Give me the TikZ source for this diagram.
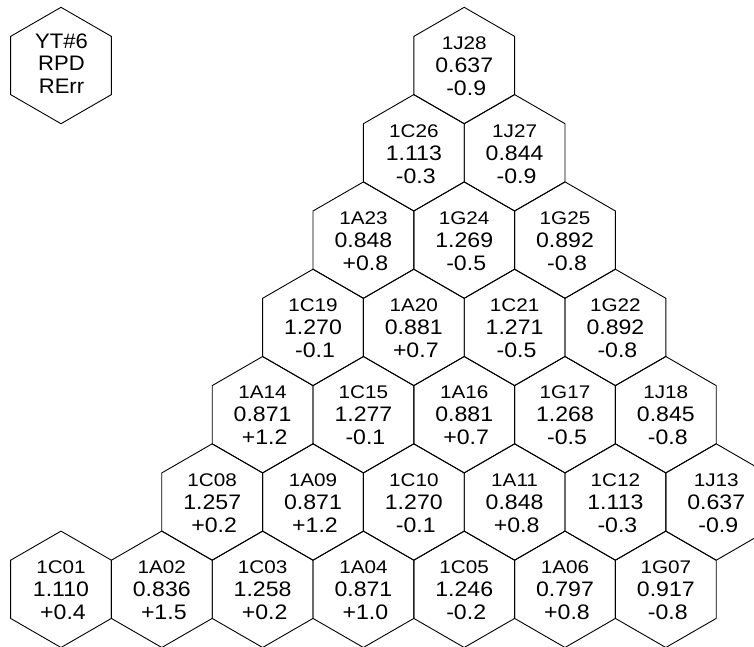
\documentclass[tikz,border=0pt]{standalone}
\usepackage{fontspec}
\setmainfont{Liberation Sans}
\usetikzlibrary{calc}
\newcommand\numsz{\fontsize{21}{23}\selectfont}
\newcommand\lblsz{\fontsize{18.3}{23}\selectfont}
\newcommand\legsz{\fontsize{21}{22.5}\selectfont}
\newcommand\wnum[1]{\scalebox{1.1}[1]{#1}}
\newcommand\wlbl[1]{\scalebox{1.13}[1]{#1}}
\newcommand\wleg[1]{\scalebox{1.05}[1]{#1}}
\def\HR{58.2}
\tikzset{
  hexline/.style={draw=black, line width=0.9pt, line join=miter},
  celltext/.style={align=center, inner sep=0pt, font=\numsz, yshift=-0.95pt},
  legtext/.style={align=center, inner sep=0pt, font=\legsz},
}
\newcommand\hexat[1]{\draw[hexline] (#1) ++(90:\HR) -- ++(-30:\HR) -- ++(-90:\HR) -- ++(-150:\HR) -- ++(150:\HR) -- ++(90:\HR) -- cycle;}
\newcommand\cell[6]{%
  \coordinate (c#1) at ({61+#2*50.4},{-65.5-(#3-1)*87.3});
  \hexat{c#1}
  \node[celltext] (#1) at (c#1) {\lblsz\wlbl{#4}\\ \numsz\wnum{#5}\\ \numsz\kern4pt\wnum{#6}};
}
\begin{document}
\begin{tikzpicture}[x=1pt,y=1pt]
\useasboundingbox (0,0) rectangle (754,-646);
\fill[white] (0,0) rectangle (754,-646);
\clip (0,0) rectangle (754,-646);
% legend
\coordinate (cleg) at (61,-65.5);
\hexat{cleg}
\node[legtext] (legend) at (61.5,-63.5) {\wleg{YT\#6}\\ \wleg{RPD}\\ \wleg{RErr}};
% row 1
\cell{1J28}{8}{1}{1J28}{0.637}{-0.9}
% row 2
\cell{1C26}{7}{2}{1C26}{1.113}{-0.3}
\cell{1J27}{9}{2}{1J27}{0.844}{-0.9}
% row 3
\cell{1A23}{6}{3}{1A23}{0.848}{+0.8}
\cell{1G24}{8}{3}{1G24}{1.269}{-0.5}
\cell{1G25}{10}{3}{1G25}{0.892}{-0.8}
% row 4
\cell{1C19}{5}{4}{1C19}{1.270}{-0.1}
\cell{1A20}{7}{4}{1A20}{0.881}{+0.7}
\cell{1C21}{9}{4}{1C21}{1.271}{-0.5}
\cell{1G22}{11}{4}{1G22}{0.892}{-0.8}
% row 5
\cell{1A14}{4}{5}{1A14}{0.871}{+1.2}
\cell{1C15}{6}{5}{1C15}{1.277}{-0.1}
\cell{1A16}{8}{5}{1A16}{0.881}{+0.7}
\cell{1G17}{10}{5}{1G17}{1.268}{-0.5}
\cell{1J18}{12}{5}{1J18}{0.845}{-0.8}
% row 6
\cell{1C08}{3}{6}{1C08}{1.257}{+0.2}
\cell{1A09}{5}{6}{1A09}{0.871}{+1.2}
\cell{1C10}{7}{6}{1C10}{1.270}{-0.1}
\cell{1A11}{9}{6}{1A11}{0.848}{+0.8}
\cell{1C12}{11}{6}{1C12}{1.113}{-0.3}
\cell{1J13}{13}{6}{1J13}{0.637}{-0.9}
% row 7
\cell{1C01}{0}{7}{1C01}{1.110}{+0.4}
\cell{1A02}{2}{7}{1A02}{0.836}{+1.5}
\cell{1C03}{4}{7}{1C03}{1.258}{+0.2}
\cell{1A04}{6}{7}{1A04}{0.871}{+1.0}
\cell{1C05}{8}{7}{1C05}{1.246}{-0.2}
\cell{1A06}{10}{7}{1A06}{0.797}{+0.8}
\cell{1G07}{12}{7}{1G07}{0.917}{-0.8}
\end{tikzpicture}
\end{document}
